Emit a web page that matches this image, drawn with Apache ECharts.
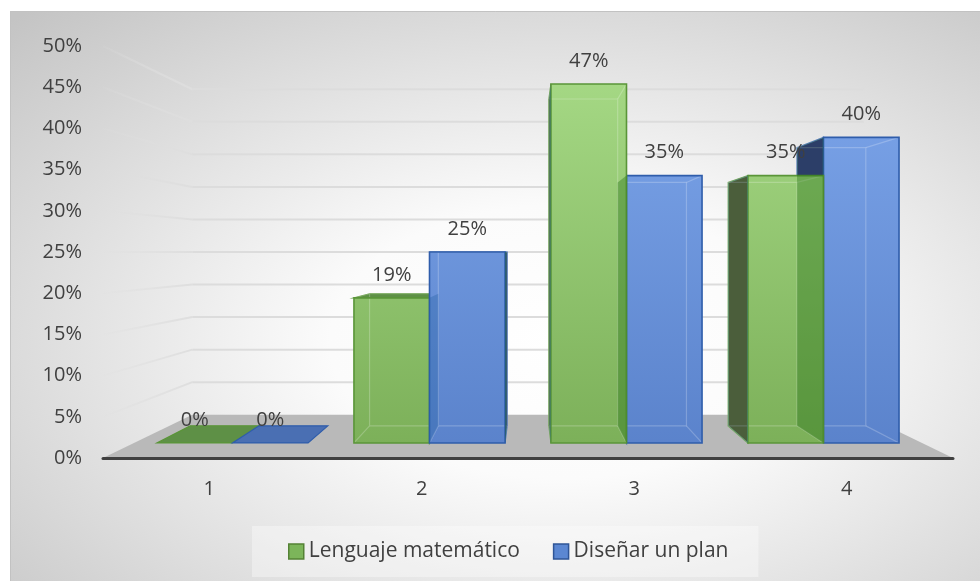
<!DOCTYPE html>
<html>
<head>
<meta charset="utf-8">
<script src="https://cdn.jsdelivr.net/npm/echarts@6/dist/echarts.min.js"></script>
<style>
  html, body { margin: 0; padding: 0; background: #ffffff; }
  #chart { width: 980px; height: 581px; }
</style>
</head>
<body>
<div id="chart"></div>
<script>
// ---- data ----
const categories = ['1', '2', '3', '4'];
const lenguajeMatematico = [0, 19, 47, 35];
const disenarUnPlan = [0, 25, 35, 40];
const gridTicks = [5, 10, 15, 20, 25, 30, 35, 40, 45, 50];
const seriesNames = ['Lenguaje matemático', 'Diseñar un plan'];

// ---- 3D look: one-point perspective toward a vanishing point ----
const FONT = '"Open Sans", "Noto Sans", sans-serif';
const EYE_LEVEL = 25;          // value at the horizon
const DEPTH_BAR_FRONT = 0.073; // fraction of the way to the vanishing point
const DEPTH_BAR_BACK = 0.156;
const DEPTH_WALL = 0.21;
const BAR_FRACTION = 0.3835;   // bar width as a share of the category band

// A side face is painted once more, translucent, above the neighbouring bar so
// that it shows through it; "side" is chosen so that side + ghost gives the
// final side colour.
const GREEN = {
  back: '#80b45d', side: '#605c04', top: '#5e9046', edge: '#5a9538',
  grad: ['#ade08d', '#7aae57'], ghost: 'rgba(37,98,164,0.35)'
};
const BLUE = {
  back: '#5e87cf', side: '#382a9c', top: '#4a6fb3', edge: '#2f5dab',
  grad: ['#82abef', '#5981ca'], ghost: 'rgba(24,101,10,0.35)'
};

function vanishingPoint(api) {
  const a = api.coord([0, EYE_LEVEL]);
  const b = api.coord([categories.length - 1, EYE_LEVEL]);
  return [(a[0] + b[0]) / 2, a[1]];
}
function toward(p, vp, t) {
  return [p[0] + t * (vp[0] - p[0]), p[1] + t * (vp[1] - p[1])];
}

function renderBar(side, pal) {
  return function (params, api) {
    const ci = api.value(0);
    const v = api.value(1);
    const vp = vanishingPoint(api);
    const band = api.size([1, 0])[0];
    const c = api.coord([ci, 0]);
    const base = c[1];
    const top = api.coord([ci, v])[1];
    const w = band * BAR_FRACTION;
    const x0 = side < 0 ? c[0] - w : c[0];
    const x1 = x0 + w;
    const face = t => ({
      lb: toward([x0, base], vp, t), rb: toward([x1, base], vp, t),
      rt: toward([x1, top], vp, t), lt: toward([x0, top], vp, t)
    });
    const f = face(DEPTH_BAR_FRONT);
    const b = face(DEPTH_BAR_BACK);
    const dist = Math.abs((x0 + x1) / 2 - vp[0]);
    const z0 = Math.round((800 - dist) * 10);
    const children = [];
    const poly = (pts, style, z) => children.push({
      type: 'polygon', shape: { points: pts }, style: style, z2: z, silent: true
    });
    if (v > 0) {
      poly([b.lb, b.rb, b.rt, b.lt], { fill: pal.back }, z0);
      poly([f.lb, f.rb, f.rt, f.lt], { fill: pal.back }, z0);
      let sideFace = null;
      if (x0 > vp[0]) sideFace = [f.lb, b.lb, b.lt, f.lt];
      if (x1 < vp[0]) sideFace = [f.rb, b.rb, b.rt, f.rt];
      if (sideFace) {
        poly(sideFace, { fill: pal.side, stroke: pal.edge, lineWidth: 1.2 }, z0 + 1);
        poly(sideFace, { fill: pal.ghost }, 50000);
      }
    }
    if (top >= vp[1]) {
      poly([f.lt, f.rt, b.rt, b.lt], { fill: pal.top, stroke: pal.edge, lineWidth: 1.2 }, z0 + 2);
    }
    if (v > 0) {
      const gTop = api.coord([ci, 50])[1];
      poly([f.lb, f.rb, f.rt, f.lt], {
        fill: new echarts.graphic.LinearGradient(0, gTop, 0, base, [
          { offset: 0, color: pal.grad[0] }, { offset: 1, color: pal.grad[1] }
        ], true),
        opacity: 0.9
      }, z0 + 3);
      // back edges seen through the translucent front face
      children.push({
        type: 'polyline', silent: true, z2: z0 + 4,
        shape: { points: [b.lb, b.rb, b.rt, b.lt, b.lb] },
        style: { stroke: 'rgba(255,255,255,0.22)', lineWidth: 1.2, fill: null }
      });
      ['lb', 'rb', 'rt', 'lt'].forEach(function (k) {
        children.push({
          type: 'line', silent: true, z2: z0 + 4,
          shape: { x1: f[k][0], y1: f[k][1], x2: b[k][0], y2: b[k][1] },
          style: { stroke: 'rgba(255,255,255,0.22)', lineWidth: 1.2 }
        });
      });
      poly([f.lb, f.rb, f.rt, f.lt], { fill: null, stroke: pal.edge, lineWidth: 1.6 }, z0 + 5);
    }
    children.push({
      type: 'text', silent: true, z2: 100000,
      style: {
        text: v + '%', x: (f.lb[0] + f.rb[0]) / 2, y: f.lt[1] - 23,
        align: 'center', verticalAlign: 'middle',
        font: '20px ' + FONT, fill: '#404040'
      }
    });
    return { type: 'group', children: children };
  };
}

function renderWalls(params, api) {
  const v = api.value(1);
  const vp = vanishingPoint(api);
  const band = api.size([1, 0])[0];
  const left = [api.coord([0, v])[0] - band / 2, api.coord([0, v])[1]];
  const right = [api.coord([categories.length - 1, v])[0] + band / 2, left[1]];
  const backL = toward(left, vp, DEPTH_WALL);
  const backR = toward(right, vp, DEPTH_WALL);
  return {
    type: 'group',
    children: [
      {
        type: 'line', silent: true, z2: 1,
        shape: { x1: left[0], y1: left[1], x2: backL[0], y2: backL[1] },
        style: {
          stroke: new echarts.graphic.LinearGradient(left[0], 0, backL[0], 0, [
            { offset: 0, color: 'rgba(222,222,222,0.1)' },
            { offset: 1, color: 'rgba(222,222,222,1)' }
          ], true),
          lineWidth: 2
        }
      },
      {
        type: 'line', silent: true, z2: 1,
        shape: { x1: backL[0], y1: backL[1], x2: backR[0], y2: backR[1] },
        style: { stroke: '#dcdcdc', lineWidth: 2 }
      }
    ]
  };
}

function renderFloor(params, api) {
  const vp = vanishingPoint(api);
  const band = api.size([1, 0])[0];
  const l = [api.coord([0, 0])[0] - band / 2, api.coord([0, 0])[1]];
  const r = [api.coord([categories.length - 1, 0])[0] + band / 2, l[1]];
  return {
    type: 'polygon', silent: true, z2: 2,
    shape: { points: [l, r, toward(r, vp, DEPTH_WALL), toward(l, vp, DEPTH_WALL)] },
    style: { fill: '#b9b9b9' }
  };
}

const chart = echarts.init(document.getElementById('chart'), null, { renderer: 'canvas' });
const W = 970, H = 570;
chart.setOption({
  animation: false,
  textStyle: { fontFamily: FONT },
  graphic: [
    {
      type: 'rect', silent: true, z: -10,
      x: 10, y: 11, scaleX: W / H,
      shape: { x: 0, y: 0, width: H, height: H },
      style: {
        fill: new echarts.graphic.RadialGradient(0.57, 0.58, 0.8, [
          { offset: 0, color: '#ffffff' },
          { offset: 0.3, color: '#fbfbfb' },
          { offset: 1, color: '#c4c4c4' }
        ])
      }
    },
    {
      type: 'rect', silent: true, z: -9,
      shape: { x: 10.5, y: 11.5, width: 990, height: 590 },
      style: { fill: null, stroke: '#c2c2c2', lineWidth: 1 }
    }
  ],
  grid: { left: 103, right: 27, top: 46, bottom: 123, containLabel: false, outerBoundsMode: 'none' },
  legend: {
    data: [
      { name: seriesNames[0], itemStyle: { color: '#7cb55a', borderColor: '#548235', borderWidth: 1.5 } },
      { name: seriesNames[1], itemStyle: { color: '#5b87d2', borderColor: '#2f5597', borderWidth: 1.5 } }
    ],
    left: 252, top: 526,
    padding: [15, 30, 15, 36],
    itemWidth: 15, itemHeight: 15, itemGap: 33,
    icon: 'rect',
    backgroundColor: 'rgba(255,255,255,0.35)',
    textStyle: { fontSize: 21, color: '#404040', fontFamily: FONT }
  },
  xAxis: {
    type: 'category', data: categories, z: 10,
    axisTick: { show: false },
    axisLine: { lineStyle: { color: '#404040', width: 3 } },
    axisLabel: { fontSize: 20, color: '#404040', margin: 21, fontFamily: FONT },
    splitLine: { show: false }
  },
  yAxis: {
    type: 'value', min: 0, max: 50, interval: 5,
    axisLine: { show: false }, axisTick: { show: false }, splitLine: { show: false },
    axisLabel: {
      formatter: '{value}%', fontSize: 20, color: '#404040', margin: 21,
      padding: [5, 0, 0, 0], fontFamily: FONT
    }
  },
  series: [
    {
      type: 'custom', name: 'walls', z: 2, silent: true,
      renderItem: renderWalls,
      data: gridTicks.map(v => [0, v]),
      encode: { x: 0, y: 1 }
    },
    {
      type: 'custom', name: 'floor', z: 2, silent: true,
      renderItem: renderFloor,
      data: [[0, 0]],
      encode: { x: 0, y: 1 }
    },
    {
      type: 'custom', name: seriesNames[0], z: 2,
      renderItem: renderBar(-1, GREEN),
      itemStyle: { color: '#7cb55a' },
      data: lenguajeMatematico.map((v, i) => [i, v]),
      encode: { x: 0, y: 1 }
    },
    {
      type: 'custom', name: seriesNames[1], z: 2,
      renderItem: renderBar(1, BLUE),
      itemStyle: { color: '#5b87d2' },
      data: disenarUnPlan.map((v, i) => [i, v]),
      encode: { x: 0, y: 1 }
    }
  ]
});
</script>
</body>
</html>
